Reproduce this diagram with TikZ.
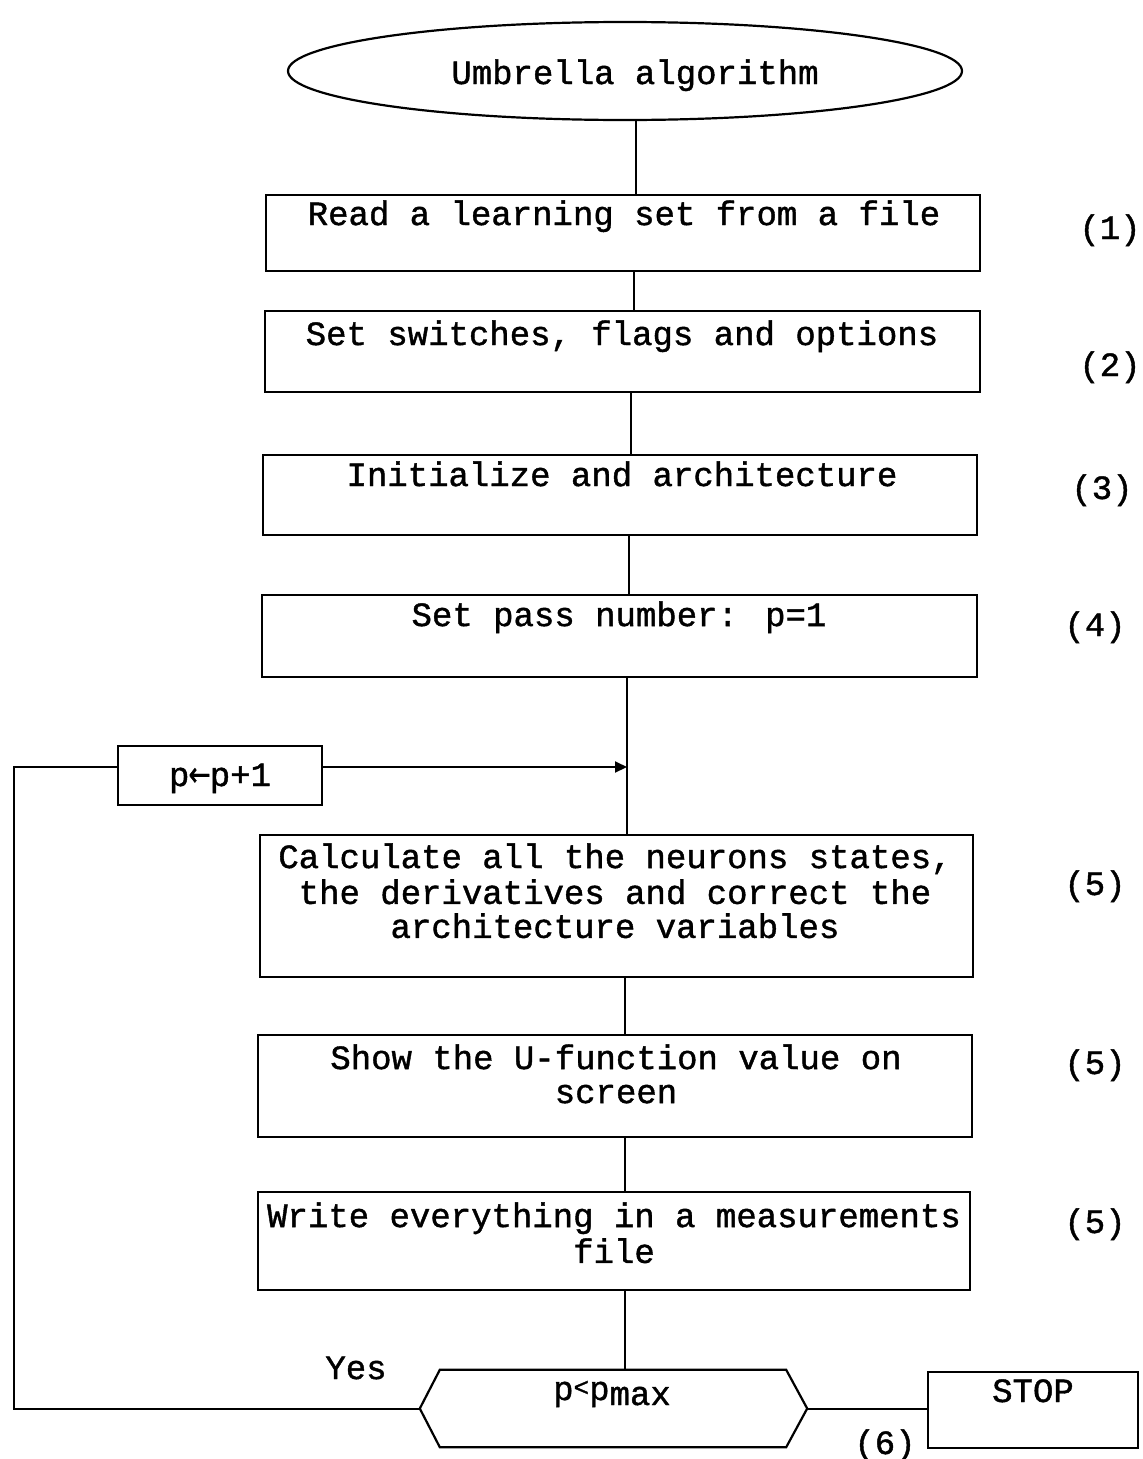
\documentclass[tikz,border=0pt]{standalone}
\usepackage{fontspec}
\usepackage{graphicx}
\setmainfont{Liberation Mono}
\usetikzlibrary{shapes.geometric,arrows.meta}
\newfontfamily\monofam[FakeBold=1.2]{Liberation Mono}
\newfontfamily\arrowfam[FakeBold=1.0]{DejaVu Sans}
\newcommand{\flowfont}{\monofam\fontsize{34}{34}\selectfont}
% left arrow squeezed into one monospaced cell
\newcommand{\leftarrowglyph}{\makebox[20.4pt][c]{\scalebox{0.78}[1]{\arrowfam\fontsize{34}{34}\selectfont ←}}}
\begin{document}
\begin{tikzpicture}[
  x=1pt, y=-1pt,
  shapeline/.style={draw=black, line width=2.2pt},
  stepbox/.style={shapeline, rectangle, inner sep=0pt},
  startoval/.style={shapeline, ellipse, inner sep=0pt},
  txt/.style={font=\flowfont, inner sep=0pt, align=center, anchor=north},
  tag/.style={font=\flowfont, inner sep=0pt, anchor=base},
  link/.style={draw=black, line width=2pt},
]
\useasboundingbox (0,0) rectangle (1143,1459);

% start oval
\node[startoval, minimum width=674pt, minimum height=98pt] (ell) at (625,71) {};
\node[txt] (ellt) at (635,59.2) {\strut Umbrella algorithm};

% process boxes
\node[stepbox, minimum width=714pt, minimum height=76pt]  (b1) at (623,233)    {};
\node[stepbox, minimum width=715pt, minimum height=81pt]  (b2) at (622.5,351.5) {};
\node[stepbox, minimum width=714pt, minimum height=80pt]  (b3) at (620,495)    {};
\node[stepbox, minimum width=715pt, minimum height=82pt]  (b4) at (619.5,636)  {};
\node[stepbox, minimum width=713pt, minimum height=142pt] (b5) at (616.5,906)  {};
\node[stepbox, minimum width=714pt, minimum height=102pt] (b6) at (615,1086)   {};
\node[stepbox, minimum width=712pt, minimum height=98pt]  (b7) at (614,1241)   {};

\node[txt] (b1t) at (624,200.2)  {\strut Read a learning set from a file};
\node[txt] (b2t) at (622,320.2)  {\strut Set switches, flags and options};
\node[txt] (b3t) at (622,461.2)  {\strut Initialize and architecture};
\node[txt] (b4t) at (619,601.2)  {\strut Set pass number: p=1};
\node[txt] (b5t) at (615,843.2)  {\strut Calculate all the neurons states,\\the derivatives and correct the\\architecture variables};
\node[txt] (b6t) at (616,1044.2) {\strut Show the U-function value on\\screen};
\node[txt] (b7t) at (614,1202.2) {\strut Write everything in a measurements\\file};

% step numbers
\node[tag] (n1) at (1110,239)  {(1)};
\node[tag] (n2) at (1110,376)  {(2)};
\node[tag] (n3) at (1102,499)  {(3)};
\node[tag] (n4) at (1095,636)  {(4)};
\node[tag] (n5a) at (1095,895)  {(5)};
\node[tag] (n5b) at (1095,1074) {(5)};
\node[tag] (n5c) at (1095,1233) {(5)};
\node[tag] (n6) at (885,1454)  {(6)};

% increment box
\node[stepbox, minimum width=204pt, minimum height=59pt] (inc) at (220,775.5) {};
\node[tag] (inct) at (220,786) {p\leftarrowglyph p+1};

% decision hexagon
\node[rectangle, inner sep=0pt, minimum width=387pt, minimum height=77pt] (hex) at (613.5,1408.5) {};
\draw[shapeline, line join=miter]
  (hex.west) -- ([xshift=20pt]hex.north west) -- ([xshift=-21pt]hex.north east)
  -- (hex.east) -- ([xshift=-21pt]hex.south east) -- ([xshift=20pt]hex.south west) -- cycle;
\node[font=\flowfont, inner sep=0pt, anchor=base west] (hext) at (553,1400)
  {p\raisebox{4pt}{\fontsize{26}{26}\selectfont<}p\raisebox{-5pt}{max}};
\node[tag] (yes) at (356,1379) {Yes};

% stop box
\node[stepbox, minimum width=210pt, minimum height=76pt] (stop) at (1033,1410) {};
\node[tag] (stopt) at (1033,1402) {STOP};

% main flow
\draw[link] ([xshift=13pt]b1.north) -- ([xshift=13pt]b1.north |- ell.south);
\draw[link] ([xshift=11pt]b1.south) -- ([xshift=11pt]b1.south |- b2.north);
\draw[link] ([xshift=8.5pt]b2.south) -- ([xshift=8.5pt]b2.south |- b3.north);
\draw[link] ([xshift=9pt]b3.south) -- ([xshift=9pt]b3.south |- b4.north);
\coordinate (s4) at ([xshift=7.5pt]b4.south);
\draw[link] (s4) -- (s4 |- b5.north);
\draw[link] ([xshift=8.5pt]b5.south) -- ([xshift=8.5pt]b5.south |- b6.north);
\draw[link] ([xshift=10pt]b6.south) -- ([xshift=10pt]b6.south |- b7.north);
\draw[link] ([xshift=11pt]b7.south) -- ([xshift=11pt]b7.south |- hex.north);

% loop back
\coordinate (incin) at ([yshift=8.5pt]inc.east);
\coordinate (incout) at ([yshift=8.5pt]inc.west);
\draw[link, -{Triangle[length=12pt,width=11pt]}] (incin) -- (incin -| s4);
\coordinate (loopcorner) at (14,767);
\draw[link] (incout) -- (loopcorner) |- (hex.west);

% exit
\draw[link] (hex.east) -- (hex.east -| stop.west);
\end{tikzpicture}
\end{document}
